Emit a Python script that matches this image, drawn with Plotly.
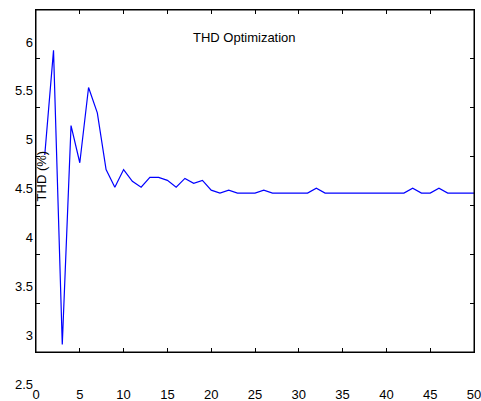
import plotly.graph_objects as go

iterations = list(range(1, 51))
thd = [4.85, 5.92, 2.91, 5.15, 4.77, 5.54, 5.28, 4.70, 4.52, 4.70,
       4.58, 4.52, 4.62, 4.62, 4.59, 4.52, 4.61, 4.56, 4.59, 4.49,
       4.46, 4.49, 4.46, 4.46, 4.46, 4.49, 4.46, 4.46, 4.46, 4.46,
       4.46, 4.51, 4.46, 4.46, 4.46, 4.46, 4.46, 4.46, 4.46, 4.46,
       4.46, 4.46, 4.51, 4.46, 4.46, 4.51, 4.46, 4.46, 4.46, 4.46]

x_ticks = list(range(0, 51, 5))
y_ticks = [2.5, 3, 3.5, 4, 4.5, 5, 5.5, 6]

FONT = "Liberation Sans, Arial, sans-serif"

fig = go.Figure()
fig.add_trace(go.Scatter(x=iterations, y=thd, mode="lines",
                         line=dict(color="#0000FF", width=1.2),
                         showlegend=False, hoverinfo="x+y"))
# invisible anchors so the tick axes are drawn
for ax in ("y2", "y3"):
    fig.add_trace(go.Scatter(x=[x_ticks[0], x_ticks[-1]], y=[y_ticks[0], y_ticks[-1]],
                             mode="markers", marker=dict(opacity=0),
                             yaxis=ax, showlegend=False, hoverinfo="skip"))

tick_axis = dict(range=[2.5, 6], tickvals=y_ticks, ticks="inside", ticklen=4,
                 tickcolor="black", tickwidth=1, showgrid=False, zeroline=False,
                 showline=False, overlaying="y", automargin=False)

fig.update_layout(
    width=481, height=401,
    margin=dict(l=36, r=7, t=10, b=49, autoexpand=False),
    paper_bgcolor="white", plot_bgcolor="white",
    font=dict(family=FONT, size=13, color="black"),
    xaxis=dict(range=[0, 50], tickvals=x_ticks, ticks="inside", ticklen=4,
               tickcolor="black", showline=True, linecolor="black", linewidth=1,
               mirror="ticks", showgrid=False, zeroline=False, ticklabelstandoff=30,
               ticklabeloverflow="allow", automargin=False, tickfont=dict(size=13)),
    yaxis=dict(range=[2.8333, 6.3333], showticklabels=False, ticks="",
               showline=True, linecolor="black", linewidth=1, mirror=True,
               showgrid=False, zeroline=False, automargin=False),
    yaxis2=dict(tick_axis, side="left", showticklabels=True, ticklabeloverflow="allow",
                ticklabelshift=32, ticklabelstandoff=2, tickfont=dict(size=13)),
    yaxis3=dict(tick_axis, side="right", showticklabels=False),
    shapes=[dict(type="rect", xref="paper", yref="paper", x0=0, y0=0, x1=1, y1=1,
                 line=dict(color="black", width=1), layer="above")],
    annotations=[
        dict(text="THD Optimization", xref="paper", yref="paper",
             x=0.475, y=0.947, showarrow=False, font=dict(size=13)),
        dict(text="THD (%)", xref="paper", yref="paper", textangle=-90,
             x=-0.009, y=0.515, showarrow=False, font=dict(size=13)),
    ],
)

fig.write_html("out.html",
               config={"displayModeBar": False},
               post_script="document.body.style.margin='0';"
                           "document.body.style.overflow='hidden';")
